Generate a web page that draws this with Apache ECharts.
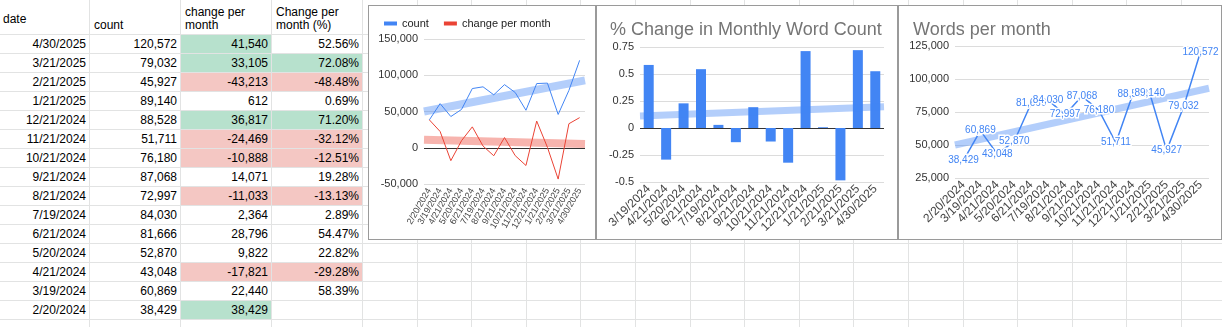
<!DOCTYPE html>
<html><head><meta charset="utf-8">
<script src="https://cdn.jsdelivr.net/npm/echarts@6/dist/echarts.min.js"></script>
<style>
html,body{margin:0;padding:0;background:#fff;width:1222px;height:327px;overflow:hidden;font-family:"Liberation Sans",Arial,sans-serif;}
.vl{position:absolute;top:0;width:1px;height:327px;background:#e2e3e3;}
.hl{position:absolute;left:0;height:1px;width:1222px;background:#e2e3e3;}
.cell{position:absolute;height:18px;line-height:19px;font-size:12px;color:#000;white-space:nowrap;text-align:right;box-sizing:border-box;padding-right:3px;}
.hd{position:absolute;font-size:12px;line-height:12.5px;color:#000;white-space:nowrap;}
.box{position:absolute;border:1px solid #9a9a9a;background:#fff;box-sizing:border-box;}
.chart{position:absolute;left:0;top:0;width:100%;height:100%;}
</style></head>
<body>
<div id="sheet"></div>
<div class="box" style="left:368px;top:5px;width:228px;height:235px;"><div id="c1" class="chart"></div></div>
<div class="box" style="left:596px;top:5px;width:302px;height:235px;"><div id="c2" class="chart"></div></div>
<div class="box" style="left:898px;top:5px;width:324px;height:235px;"><div id="c3" class="chart"></div></div>
<script>
// ---- data (chronological) ----
const dates = ['2/20/2024','3/19/2024','4/21/2024','5/20/2024','6/21/2024','7/19/2024','8/21/2024','9/21/2024','10/21/2024','11/21/2024','12/21/2024','1/21/2025','2/21/2025','3/21/2025','4/30/2025'];
const counts = [38429,60869,43048,52870,81666,84030,72997,87068,76180,51711,88528,89140,45927,79032,120572];
const changes = [38429,22440,-17821,9822,28796,2364,-11033,14071,-10888,-24469,36817,612,-43213,33105,41540];
const pctChange = [null,58.39,-29.28,22.82,54.47,2.89,-13.13,19.28,-12.51,-32.12,71.20,0.69,-48.48,72.08,52.56];
const headers = ['date','count','change per\nmonth','Change per\nmonth (%)'];
const countTrend = [49970, 92970];      // trendline ends (left/right plot edge)
const changeTrend = [10900, 5200];
const pctTrend = [0.112, 0.197];
const legendNames = ['count','change per month'];
const title2 = '% Change in Monthly Word Count';
const title3 = 'Words per month';

// ---- spreadsheet ----
const FF = '"Liberation Sans", Arial, sans-serif';
const sheet = document.getElementById('sheet');
const colX = [89,180,271,362];
for (let k=1;k<=16;k++) colX.push(362+54.6*k);
colX.forEach(x=>{const d=document.createElement('div');d.className='vl';d.style.left=Math.round(x)+'px';sheet.appendChild(d);});
const rowH = 19, row0 = 34;
for (let k=0;k<=15;k++){const d=document.createElement('div');d.className='hl';d.style.top=(row0+rowH*k)+'px';sheet.appendChild(d);}
const fmt = v => v.toLocaleString('en-US');
const GREEN='#b7e1cd', PINK='#f4c7c3';
const colL=[0,90,181,272], colR=[89,180,271,362];
function cell(ci,ri,text,bg){
  const d=document.createElement('div');d.className='cell';
  d.style.left=colL[ci]+'px';d.style.width=(colR[ci]-colL[ci])+'px';
  d.style.top=(row0+rowH*ri+1)+'px';
  if(bg)d.style.background=bg;
  d.textContent=text;sheet.appendChild(d);
}
const n=dates.length;
for(let r=0;r<n;r++){
  const i=n-1-r;
  cell(0,r,dates[i]);
  cell(1,r,fmt(counts[i]));
  const ch=changes[i];
  cell(2,r,fmt(ch), ch>=30000?GREEN:(ch<=-10000?PINK:null));
  const p=pctChange[i];
  if(p!==null) cell(3,r,p.toFixed(2)+'%', p>=60?GREEN:(p<=-10?PINK:null));
}
const hpos=[[3,13],[94,19],[185,6],[276,6]];
headers.forEach((h,i)=>{const d=document.createElement('div');d.className='hd';d.style.left=hpos[i][0]+'px';d.style.top=hpos[i][1]+'px';d.innerHTML=h.replace('\n','<br>');sheet.appendChild(d);});

// ---- charts ----
const BLUE='#4285f4', RED='#ea4335', GRID='#dcdcdc', LBL='#444';
function yAxisCfg(min,max,interval,colors,formatter){
  return {type:'value',min,max,interval,axisLine:{show:false},axisTick:{show:false},
    axisLabel:{fontSize:11,color:'#333',margin:6,fontFamily:FF,formatter},
    splitLine:{show:true,lineStyle:{color:colors,width:1}}};
}
function xCat(data,rot,fs){
  return {type:'category',data,boundaryGap:true,axisLine:{show:false},axisTick:{show:false},
    axisLabel:{rotate:rot,fontSize:fs,color:LBL,interval:0,margin:5,fontFamily:FF}};
}
function trend(xmax,vals,color,w){
  return {type:'line',xAxisIndex:1,silent:true,symbol:'none',data:[[-0.5,vals[0]],[xmax,vals[1]]],
    lineStyle:{width:w,color,opacity:0.4,cap:'butt'},z:3};
}

const c1=echarts.init(document.getElementById('c1'),null,{renderer:'canvas'});
c1.setOption({
  animation:false,textStyle:{fontFamily:FF},
  legend:{data:legendNames,left:10,top:7,itemWidth:13,itemHeight:4,itemGap:15,icon:'rect',
    textStyle:{fontSize:11,color:'#222',fontFamily:FF}},
  grid:{left:55,right:10,top:33,bottom:55},
  xAxis:[xCat(dates,60,9),{type:'value',min:-0.5,max:n-0.5,show:false}],
  yAxis:yAxisCfg(-50000,150000,50000,[GRID,'#333',GRID,GRID,GRID],fmt),
  series:[
    {name:legendNames[0],type:'line',data:counts,symbol:'none',lineStyle:{width:1,color:BLUE},itemStyle:{color:BLUE}},
    {name:legendNames[1],type:'line',data:changes,symbol:'none',lineStyle:{width:1,color:RED},itemStyle:{color:RED}},
    trend(n-0.5,countTrend,BLUE,8),
    trend(n-0.5,changeTrend,RED,8)
  ]
});

const pDates=dates.slice(1), pVals=pctChange.slice(1).map(v=>v/100);
const c2=echarts.init(document.getElementById('c2'),null,{renderer:'canvas'});
c2.setOption({
  animation:false,textStyle:{fontFamily:FF},
  title:{text:title2,left:8,top:10,textStyle:{fontSize:18,fontWeight:'normal',color:'#757575',fontFamily:FF}},
  grid:{left:43,right:13,top:41,bottom:57},
  xAxis:[xCat(pDates,45,12),{type:'value',min:-0.5,max:pDates.length-0.5,show:false}],
  yAxis:yAxisCfg(-0.5,0.75,0.25,[GRID,GRID,'#333',GRID,GRID,GRID]),
  series:[
    {type:'bar',data:pVals,barWidth:10,itemStyle:{color:BLUE}},
    trend(pDates.length-0.5,pctTrend,BLUE,7)
  ]
});

const c3=echarts.init(document.getElementById('c3'),null,{renderer:'canvas'});
c3.setOption({
  animation:false,textStyle:{fontFamily:FF},
  title:{text:title3,left:9,top:10,textStyle:{fontSize:18,fontWeight:'normal',color:'#757575',fontFamily:FF}},
  grid:{left:56,right:12,top:40,bottom:61},
  xAxis:[xCat(dates,45,12),{type:'value',min:-0.5,max:n-0.5,show:false}],
  yAxis:yAxisCfg(25000,125000,25000,GRID,fmt),
  series:[
    trend(n-0.5,countTrend,BLUE,7),
    {type:'line',data:counts,symbol:'circle',symbolSize:0.01,showSymbol:true,showAllSymbol:true,
      lineStyle:{width:1.5,color:BLUE},itemStyle:{color:BLUE},z:4,
      label:{show:true,position:'inside',color:BLUE,fontSize:10,fontFamily:FF,textBorderColor:'#fff',textBorderWidth:3,
        formatter:p=>fmt(p.value)},
      labelLayout:{hideOverlap:false}}
  ]
});
</script>
</body></html>
